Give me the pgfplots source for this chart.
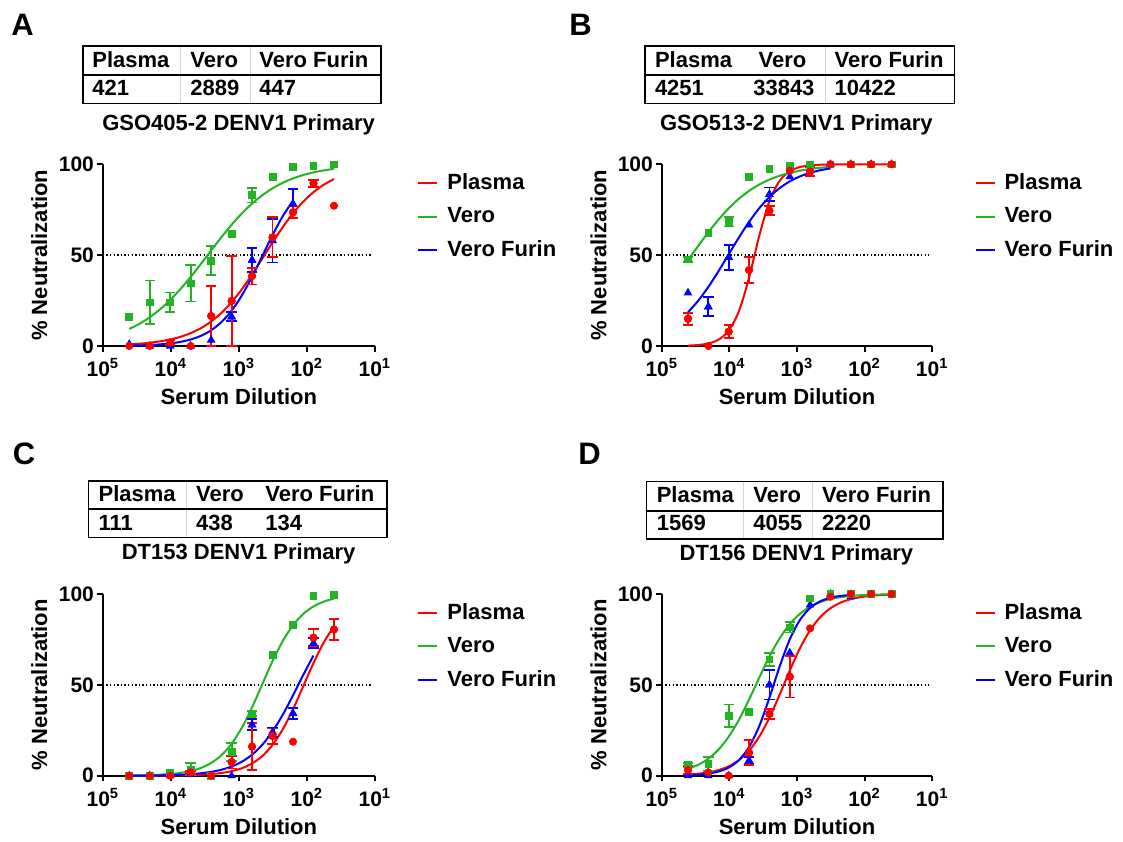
\documentclass[border=0pt]{standalone}
\usepackage{pgfplots}
\pgfplotsset{compat=1.18}
\usepackage{fontspec}
\setmainfont{Liberation Sans}
\definecolor{pr}{RGB}{255,0,0}
\definecolor{pg}{RGB}{34,180,34}
\definecolor{pb}{RGB}{0,0,255}

\pgfplotsset{
  every axis/.append style={
    scale only axis, height=90.85pt,
    x dir=reverse, xmin=10, xmax=1e5, ymin=0, ymax=100,
    axis x line*=bottom, axis y line*=left,
    axis line style={line width=1pt},
    xtick={1e5,1e4,1e3,1e2,1e1},
    xticklabels={10\textsuperscript{5},10\textsuperscript{4},10\textsuperscript{3},10\textsuperscript{2},10\textsuperscript{1}},
    xminorticks=false,
    ytick={0,50,100}, yticklabels={0,50,100},
    tick align=outside, major tick length=2.8pt,
    tick style={line width=1pt, black},
    tick label style={font=\bfseries\fontsize{10.5}{12}\selectfont},
    yticklabel style={inner sep=1.5pt},
    xlabel style={font=\bfseries\fontsize{11}{13}\selectfont, at={(axis description cs:0.5,-0.28)}, anchor=center},
    ylabel style={font=\bfseries\fontsize{11}{13}\selectfont, at={(axis description cs:-0.234,0.5)}, anchor=center},
    xlabel={Serum Dilution}, ylabel={\% Neutralization},
    clip=false,
    legend style={at={(1.155,0.972)}, anchor=north west, draw=none, fill=none,
      inner sep=0pt, font=\bfseries\fontsize{11}{13}\selectfont, row sep=3.4pt},
    legend cell align=left,
  },
}

\begin{document}
\begin{tikzpicture}
\path (0,0) rectangle (561.5pt,-418.5pt);

% tables, titles and panel letters, in pixel units of the 1123x837 canvas
\begin{scope}[x=0.5pt, y=-0.5pt, font=\bfseries\fontsize{11}{13}\selectfont]
  \node[anchor=base west, font=\bfseries\fontsize{15.5}{17}\selectfont, inner sep=0pt] at (11,35) {A};
  \node[anchor=base west, font=\bfseries\fontsize{15.5}{17}\selectfont, inner sep=0pt] at (569,35) {B};
  \node[anchor=base west, font=\bfseries\fontsize{15.5}{17}\selectfont, inner sep=0pt] at (12.5,464) {C};
  \node[anchor=base west, font=\bfseries\fontsize{15.5}{17}\selectfont, inner sep=0pt] at (578,464) {D};

  \draw[gray!35, line width=0.5pt] (180.4,46) -- (180.4,103.3) (250.7,46) -- (250.7,103.3);
  \draw[line width=0.7pt] (83,46) rectangle (381,103.3);
  \draw[line width=1.1pt] (83,75) -- (381,75);
  \node[anchor=base west, inner sep=0pt] at (92,67.7) {Plasma};
  \node[anchor=base west, inner sep=0pt] at (190,67.7) {Vero};
  \node[anchor=base west, inner sep=0pt] at (259,67.7) {Vero Furin};
  \node[anchor=base west, inner sep=0pt] at (92,95) {421};
  \node[anchor=base west, inner sep=0pt] at (190,95) {2889};
  \node[anchor=base west, inner sep=0pt] at (259,95) {447};
  \node[anchor=base, inner sep=0pt] at (238.6,130) {GSO405-2 DENV1 Primary};

  \draw[gray!35, line width=0.5pt] (825,46) -- (825,103.3);
  \draw[line width=0.7pt] (645,46) rectangle (954.6,103.3);
  \draw[line width=1.1pt] (645,75) -- (954.6,75);
  \node[anchor=base west, inner sep=0pt] at (654.6,67.7) {Plasma};
  \node[anchor=base west, inner sep=0pt] at (758.2,67.7) {Vero};
  \node[anchor=base west, inner sep=0pt] at (834.3,67.7) {Vero Furin};
  \node[anchor=base west, inner sep=0pt] at (654.6,95) {4251};
  \node[anchor=base west, inner sep=0pt] at (752.9,95) {33843};
  \node[anchor=base west, inner sep=0pt] at (834.3,95) {10422};
  \node[anchor=base, inner sep=0pt] at (796.4,130) {GSO513-2 DENV1 Primary};

  \draw[gray!35, line width=0.5pt] (186.4,481) -- (186.4,537.7);
  \draw[line width=0.7pt] (88.6,481) rectangle (386.8,537.7);
  \draw[line width=1.1pt] (88.6,509.3) -- (386.8,509.3);
  \node[anchor=base west, inner sep=0pt] at (98.2,501.7) {Plasma};
  \node[anchor=base west, inner sep=0pt] at (195.7,501.7) {Vero};
  \node[anchor=base west, inner sep=0pt] at (265,501.7) {Vero Furin};
  \node[anchor=base west, inner sep=0pt] at (98.2,530) {111};
  \node[anchor=base west, inner sep=0pt] at (195.7,530) {438};
  \node[anchor=base west, inner sep=0pt] at (265,530) {134};
  \node[anchor=base, inner sep=0pt] at (238.6,559.3) {DT153 DENV1 Primary};

  \draw[gray!35, line width=0.5pt] (743.2,481.7) -- (743.2,539) (812.9,481.7) -- (812.9,539);
  \draw[line width=0.7pt] (646.4,481.7) rectangle (942.9,539);
  \draw[line width=1.1pt] (646.4,510.7) -- (942.9,510.7);
  \node[anchor=base west, inner sep=0pt] at (656.4,502.7) {Plasma};
  \node[anchor=base west, inner sep=0pt] at (752.9,502.7) {Vero};
  \node[anchor=base west, inner sep=0pt] at (821.8,502.7) {Vero Furin};
  \node[anchor=base west, inner sep=0pt] at (656.4,530.7) {1569};
  \node[anchor=base west, inner sep=0pt] at (752.9,530.7) {4055};
  \node[anchor=base west, inner sep=0pt] at (821.8,530.7) {2220};
  \node[anchor=base, inner sep=0pt] at (796.4,560) {DT156 DENV1 Primary};
\end{scope}

% Panel A
\begin{semilogxaxis}[width=136pt, at={(51.45pt,-173pt)}, anchor=south west,
  legend image code/.code={\draw[#1, line width=1pt] (0pt,0pt) -- (9.5pt,0pt); \path (12pt,0pt);}]
\addplot[black, line width=0.7pt, dash pattern=on 0.7pt off 1.1pt, forget plot] coordinates {(1e5,50) (11,50)};
\addplot[pr, line width=1pt, no marks, smooth] coordinates {(40960,0.89) (28963,1.26) (20480,1.80) (14482,2.55) (10240,3.60) (7241,5.06) (5120,7.08) (3620,9.82) (2560,13.47) (1810,18.19) (1280,24.12) (905.1,31.23) (640,39.37) (452.5,48.13) (320,57.00) (226.3,65.45) (160,73.02) (113.1,79.45) (80,84.67) (56.6,88.76) (40,91.86)};
\addlegendentry{Plasma}
\addplot[pg, line width=1pt, no marks, smooth] coordinates {(40960,9.39) (28963,12.23) (20480,15.78) (14482,20.13) (10240,25.32) (7241,31.32) (5120,38.01) (3620,45.21) (2560,52.59) (1810,59.87) (1280,66.74) (905.1,72.96) (640,78.40) (452.5,82.99) (320,86.78) (226.3,89.82) (160,92.23) (113.1,94.11) (80,95.55) (56.6,96.65) (40,97.49)};
\addlegendentry{Vero}
\addplot[pb, line width=1pt, no marks, smooth] coordinates {(40960,0.22) (28963,0.36) (20480,0.57) (14482,0.90) (10240,1.44) (7241,2.27) (5120,3.58) (3620,5.60) (2560,8.65) (1810,13.13) (1280,19.44) (905.1,27.82) (640,38.10) (452.5,49.55) (320,61.07) (226.3,71.46) (160,79.99)};
\addlegendentry{Vero Furin}
\addplot[pb, only marks, mark=triangle*, mark size=2.1pt, forget plot] coordinates {(40960,1) (20480,0) (10240,0) (5120,0) (2560,3.3) (1280,16.1) (640,47.3) (320,58) (160,78.2)};
\addplot[pb, only marks, mark=triangle*, mark size=2.1pt, forget plot, error bars/.cd, y dir=both, y explicit, error bar style={line width=0.9pt, pb}, error mark options={rotate=90, mark size=2.6pt, line width=0.9pt, pb}] coordinates {(1280,16.1) +- (0,2.5) (640,47.3) +- (0,6.7) (320,58) +- (0,12) (160,78.2) +- (0,8)};
\addplot[pg, only marks, mark=square*, mark size=1.7pt, forget plot] coordinates {(40960,16.1) (20480,24) (10240,24) (5120,34.5) (2560,47) (1280,61.5) (640,83) (320,93) (160,98.7) (80,99.3) (40,100)};
\addplot[pg, only marks, mark=square*, mark size=1.7pt, forget plot, error bars/.cd, y dir=both, y explicit, error bar style={line width=0.9pt, pg}, error mark options={rotate=90, mark size=2.6pt, line width=0.9pt, pg}] coordinates {(20480,24) +- (0,12) (10240,24) +- (0,5.5) (5120,34.5) +- (0,10) (2560,47) +- (0,8) (640,83) +- (0,4)};
\addplot[pr, only marks, mark=*, mark size=1.8pt, forget plot] coordinates {(40960,0) (20480,0) (10240,2) (5120,0) (2560,16.5) (1280,24.8) (640,38.5) (320,59.8) (160,73.6) (80,89.5) (40,77.2)};
\addplot[pr, only marks, mark=*, mark size=1.8pt, forget plot, error bars/.cd, y dir=both, y explicit, error bar style={line width=0.9pt, pr}, error mark options={rotate=90, mark size=2.6pt, line width=0.9pt, pr}] coordinates {(10240,2) +- (0,1.5) (2560,16.5) +- (0,16.5) (1280,24.8) +- (0,24.7) (640,38.5) +- (0,4.6) (320,59.8) +- (0,11) (160,73.6) +- (0,3.2) (80,89.5) +- (0,1.9)};
\end{semilogxaxis}

% Panel B
\begin{semilogxaxis}[width=135.2pt, at={(330.9pt,-173pt)}, anchor=south west,
  legend image code/.code={\draw[#1, line width=1pt] (0pt,0pt) -- (9.5pt,0pt); \path (12pt,0pt);}]
\addplot[black, line width=0.7pt, dash pattern=on 0.7pt off 1.1pt, forget plot] coordinates {(1e5,50) (11,50)};
\addplot[pr, line width=1pt, no marks, smooth] coordinates {(40960,0.22) (28963,0.56) (20480,1.41) (14482,3.51) (10240,8.50) (7241,19.13) (5120,37.62) (3620,60.59) (2560,79.68) (1810,90.90) (1280,96.22) (905.1,98.48) (640,99.40) (452.5,99.76) (320,99.91) (226.3,99.96) (160,99.99) (113.1,100) (80,100) (56.6,100) (40,100)};
\addlegendentry{Plasma}
\addplot[pg, line width=1pt, no marks, smooth] coordinates {(40960,47.29) (28963,55.07) (20480,62.60) (14482,69.58) (10240,75.75) (7241,81.02) (5120,85.36) (3620,88.84) (2560,91.58) (1810,93.69) (1280,95.30) (905.1,96.52) (640,97.43) (452.5,98.10) (320,98.60)};
\addlegendentry{Vero}
\addplot[pb, line width=1pt, no marks, smooth] coordinates {(40960,18.57) (28963,24.90) (20480,32.53) (14482,41.21) (10240,50.48) (7241,59.71) (5120,68.30) (3620,75.80) (2560,82.00) (1810,86.88) (1280,90.60) (905.1,93.33) (640,95.32) (452.5,96.73) (320,97.73)};
\addlegendentry{Vero Furin}
\addplot[pb, only marks, mark=triangle*, mark size=2.1pt, forget plot] coordinates {(40960,29.3) (20480,21.6) (10240,48.8) (5120,66.6) (2560,83.4) (1280,93.2) (640,97) (320,100) (160,100) (80,100) (40,100)};
\addplot[pb, only marks, mark=triangle*, mark size=2.1pt, forget plot, error bars/.cd, y dir=both, y explicit, error bar style={line width=0.9pt, pb}, error mark options={rotate=90, mark size=2.6pt, line width=0.9pt, pb}] coordinates {(20480,21.6) +- (0,5.2) (10240,48.8) +- (0,7) (2560,83.4) +- (0,3.8)};
\addplot[pg, only marks, mark=square*, mark size=1.7pt, forget plot] coordinates {(40960,47.7) (20480,62.4) (10240,68.4) (5120,93.2) (2560,97.5) (1280,99.3) (640,100) (320,100) (160,100) (80,100) (40,100)};
\addplot[pg, only marks, mark=square*, mark size=1.7pt, forget plot, error bars/.cd, y dir=both, y explicit, error bar style={line width=0.9pt, pg}, error mark options={rotate=90, mark size=2.6pt, line width=0.9pt, pg}] coordinates {(40960,47.7) +- (0,1.5) (10240,68.4) +- (0,2.6)};
\addplot[pr, only marks, mark=*, mark size=1.8pt, forget plot] coordinates {(40960,15) (20480,0) (10240,7.9) (5120,41.8) (2560,74.5) (1280,96.5) (640,96) (320,100) (160,100) (80,100) (40,100)};
\addplot[pr, only marks, mark=*, mark size=1.8pt, forget plot, error bars/.cd, y dir=both, y explicit, error bar style={line width=0.9pt, pr}, error mark options={rotate=90, mark size=2.6pt, line width=0.9pt, pr}] coordinates {(40960,15) +- (0,3.3) (10240,7.9) +- (0,3.7) (5120,41.8) +- (0,7) (2560,74.5) +- (0,2.5) (640,96) +- (0,2.5)};
\end{semilogxaxis}

% Panel C
\begin{semilogxaxis}[width=136pt, at={(51.45pt,-387.85pt)}, anchor=south west,
  legend image code/.code={\draw[#1, line width=1pt] (0pt,0pt) -- (9.5pt,0pt); \path (12pt,0pt);}]
\addplot[black, line width=0.7pt, dash pattern=on 0.7pt off 1.1pt, forget plot] coordinates {(1e5,50) (11,50)};
\addplot[pr, line width=1pt, no marks, smooth] coordinates {(40960,0.01) (28963,0.02) (20480,0.04) (14482,0.07) (10240,0.11) (7241,0.19) (5120,0.32) (3620,0.53) (2560,0.89) (1810,1.49) (1280,2.49) (905.1,4.11) (640,6.73) (452.5,10.82) (320,16.95) (226.3,25.55) (160,36.59) (113.1,49.24) (80,62.02) (56.6,73.30) (40,82.20)};
\addlegendentry{Plasma}
\addplot[pg, line width=1pt, no marks, smooth] coordinates {(40960,0.12) (28963,0.20) (20480,0.33) (14482,0.56) (10240,0.93) (7241,1.56) (5120,2.60) (3620,4.29) (2560,7.01) (1810,11.26) (1280,17.58) (905.1,26.41) (640,37.64) (452.5,50.38) (320,63.06) (226.3,74.17) (160,82.84) (113.1,89.03) (80,93.18) (56.6,95.83) (40,97.48)};
\addlegendentry{Vero}
\addplot[pb, line width=1pt, no marks, smooth] coordinates {(40960,0.06) (28963,0.09) (20480,0.14) (14482,0.23) (10240,0.36) (7241,0.56) (5120,0.87) (3620,1.36) (2560,2.11) (1810,3.28) (1280,5.05) (905.1,7.70) (640,11.58) (452.5,17.04) (320,24.38) (226.3,33.59) (160,44.25) (113.1,55.47) (80,66.15)};
\addlegendentry{Vero Furin}
\addplot[pb, only marks, mark=triangle*, mark size=2.1pt, forget plot] coordinates {(40960,0) (20480,0) (10240,0) (5120,0.7) (2560,0) (1280,0) (640,28) (320,24) (160,34.3) (80,72.9)};
\addplot[pb, only marks, mark=triangle*, mark size=2.1pt, forget plot, error bars/.cd, y dir=both, y explicit, error bar style={line width=0.9pt, pb}, error mark options={rotate=90, mark size=2.6pt, line width=0.9pt, pb}] coordinates {(640,28) +- (0,3) (320,24) +- (0,2.5) (160,34.3) +- (0,3) (80,72.9) +- (0,2.7)};
\addplot[pg, only marks, mark=square*, mark size=1.7pt, forget plot] coordinates {(40960,0) (20480,0) (10240,1.8) (5120,3.5) (2560,0) (1280,13) (640,34.2) (320,66.4) (160,82.9) (80,98.9) (40,99.5)};
\addplot[pg, only marks, mark=square*, mark size=1.7pt, forget plot, error bars/.cd, y dir=both, y explicit, error bar style={line width=0.9pt, pg}, error mark options={rotate=90, mark size=2.6pt, line width=0.9pt, pg}] coordinates {(5120,3.5) +- (0,3.4) (1280,13) +- (0,5) (640,34.2) +- (0,1.5)};
\addplot[pr, only marks, mark=*, mark size=1.8pt, forget plot] coordinates {(40960,0) (20480,0) (10240,0) (5120,1.8) (2560,0) (1280,7.5) (640,16) (320,21.8) (160,18.7) (80,76) (40,80.5)};
\addplot[pr, only marks, mark=*, mark size=1.8pt, forget plot, error bars/.cd, y dir=both, y explicit, error bar style={line width=0.9pt, pr}, error mark options={rotate=90, mark size=2.6pt, line width=0.9pt, pr}] coordinates {(5120,1.8) +- (0,1) (1280,7.5) +- (0,3.5) (640,16) +- (0,12.8) (320,21.8) +- (0,4.2) (80,76) +- (0,4.6) (40,80.5) +- (0,5.7)};
\end{semilogxaxis}

% Panel D
\begin{semilogxaxis}[width=135.2pt, at={(330.9pt,-387.85pt)}, anchor=south west,
  legend image code/.code={\draw[#1, line width=1pt] (0pt,0pt) -- (9.5pt,0pt); \path (12pt,0pt);}]
\addplot[black, line width=0.7pt, dash pattern=on 0.7pt off 1.1pt, forget plot] coordinates {(1e5,50) (11,50)};
\addplot[pr, line width=1pt, no marks, smooth] coordinates {(40960,0.63) (28963,1.08) (20480,1.83) (14482,3.10) (10240,5.18) (7241,8.55) (5120,13.80) (3620,21.50) (2560,31.92) (1810,44.50) (1280,57.85) (905.1,70.14) (640,80.08) (452.5,87.31) (320,92.17) (226.3,95.27) (160,97.18) (113.1,98.33) (80,99.02) (56.6,99.43) (40,99.67)};
\addlegendentry{Plasma}
\addplot[pg, line width=1pt, no marks, smooth] coordinates {(40960,3.78) (28963,6.00) (20480,9.38) (14482,14.40) (10240,21.47) (7241,30.75) (5120,41.91) (3620,53.95) (2560,65.56) (1810,75.57) (1280,83.40) (905.1,89.09) (640,92.99) (452.5,95.56) (320,97.22) (226.3,98.27) (160,98.93) (113.1,99.34) (80,99.59) (56.6,99.75) (40,99.85)};
\addlegendentry{Vero}
\addplot[pb, line width=1pt, no marks, smooth] coordinates {(40960,0.29) (28963,0.58) (20480,1.16) (14482,2.29) (10240,4.48) (7241,8.58) (5120,15.80) (3620,27.29) (2560,42.88) (1810,60.01) (1280,75.01) (905.1,85.72) (640,92.31) (452.5,96.00) (320,97.96) (226.3,98.97) (160,99.48)};
\addlegendentry{Vero Furin}
\addplot[pb, only marks, mark=triangle*, mark size=2.1pt, forget plot] coordinates {(40960,0) (20480,0) (10240,0) (5120,8.3) (2560,50) (1280,67.7) (640,94) (320,100) (160,98.5)};
\addplot[pb, only marks, mark=triangle*, mark size=2.1pt, forget plot, error bars/.cd, y dir=both, y explicit, error bar style={line width=0.9pt, pb}, error mark options={rotate=90, mark size=2.6pt, line width=0.9pt, pb}] coordinates {(5120,8.3) +- (0,2) (2560,50) +- (0,8)};
\addplot[pg, only marks, mark=square*, mark size=1.7pt, forget plot] coordinates {(40960,5.9) (20480,6.4) (10240,33) (5120,35.2) (2560,64) (1280,81.6) (640,97.6) (320,100) (160,100) (80,100) (40,100)};
\addplot[pg, only marks, mark=square*, mark size=1.7pt, forget plot, error bars/.cd, y dir=both, y explicit, error bar style={line width=0.9pt, pg}, error mark options={rotate=90, mark size=2.6pt, line width=0.9pt, pg}] coordinates {(40960,5.9) +- (0,1) (20480,6.4) +- (0,4) (10240,33) +- (0,6.2) (2560,64) +- (0,3.5) (1280,81.6) +- (0,2.8)};
\addplot[pr, only marks, mark=*, mark size=1.8pt, forget plot] coordinates {(40960,3.1) (20480,1.8) (10240,0) (5120,12.7) (2560,34) (1280,54.5) (640,81.1) (320,98.5) (160,100) (80,100) (40,100)};
\addplot[pr, only marks, mark=*, mark size=1.8pt, forget plot, error bars/.cd, y dir=both, y explicit, error bar style={line width=0.9pt, pr}, error mark options={rotate=90, mark size=2.6pt, line width=0.9pt, pr}] coordinates {(40960,3.1) +- (0,2.3) (5120,12.7) +- (0,7) (2560,34) +- (0,2.7) (1280,54.5) +- (0,11.5)};
\end{semilogxaxis}
\end{tikzpicture}
\end{document}
